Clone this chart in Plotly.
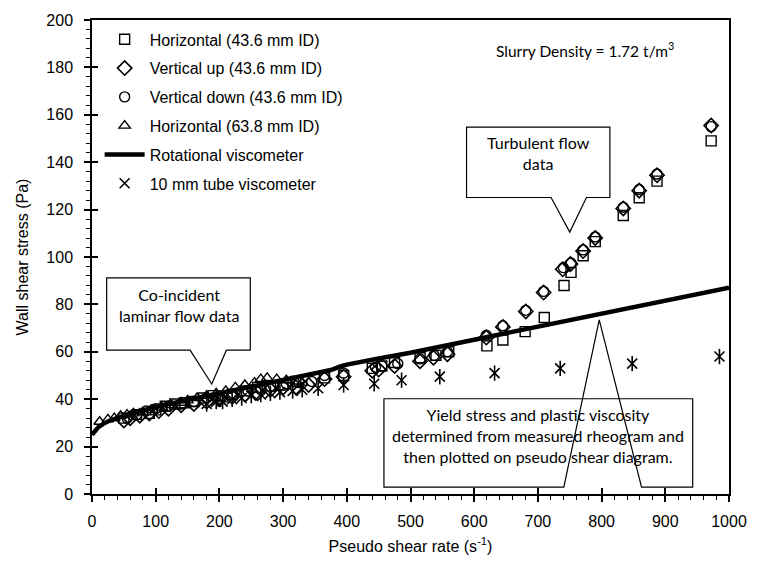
import plotly.graph_objects as go

# ---------------- data ----------------
h436_x = [50, 70, 90, 100, 115, 130, 145, 160, 175, 190, 205, 220, 240, 260, 280, 300, 320,
          365, 395, 440, 455, 475, 515, 540, 560, 620, 645, 680, 710, 741, 752, 771, 790, 834, 859, 887, 972]
h436_y = [32, 33.5, 34, 35.5, 37, 38, 38.5, 39, 40.5, 41.5, 41, 42, 43.5, 45, 45.5, 46, 47.5,
          49, 50, 53, 54, 55.5, 57.5, 58.5, 60, 62.5, 65, 68.5, 74.5, 88, 93.5, 100.5, 106.5, 117.5, 125, 132, 149]

vup_x = [50, 60, 75, 90, 105, 120, 140, 160, 180, 200, 220, 240, 260, 280, 300, 320, 340,
         365, 395, 440, 450, 475, 515, 536, 558, 619, 645, 681, 709, 739, 751, 771, 790, 834, 859, 887, 972]
vup_y = [31, 32, 33, 34, 35, 36, 37.5, 38, 39, 40, 41, 42, 42.5, 44, 45, 45, 46,
         48.5, 49.5, 52, 52.5, 54, 56, 57.5, 59, 66, 70.5, 77, 85, 94.8, 97, 102.5, 108, 120.5, 128, 134.5, 155.5]

vdn_x = [55, 70, 85, 100, 120, 140, 160, 180, 200, 220, 245, 265, 285, 305, 325, 345,
         365, 395, 445, 455, 480, 515, 537, 558, 619, 645, 681, 709, 740, 752, 771, 790, 834, 859, 887, 972]
vdn_y = [32, 33.5, 35, 36, 37, 38, 39, 40.5, 41.5, 42, 43.5, 44, 45.5, 46.5, 47, 47.5,
         50, 51, 53.5, 54, 55, 57, 58.5, 60, 67, 71, 77.5, 85.5, 95.5, 97.5, 103, 108.5, 121, 128.5, 135, 155]

h638_x = [12, 25, 35, 45, 55, 65, 80, 95, 110, 125, 140, 150, 165, 180, 195, 210, 225,
          240, 255, 265, 275, 290, 305, 320, 330]
h638_y = [30.5, 31.5, 32, 33, 33.5, 34, 34.5, 35.5, 36.5, 37.5, 38.5, 39.5, 40.5, 41.5, 42.5, 43.5, 45,
          46, 47, 48.5, 49, 48.5, 48, 47.5, 47]

rot_x = [0, 5, 10, 20, 30, 50, 75, 100, 150, 200, 250, 300, 350, 375, 390, 400, 450, 500, 600, 700, 800, 900, 1000]
rot_y = [25, 26.8, 28.2, 30, 31.2, 33, 35, 36.7, 39.7, 42.5, 45.2, 48, 50.8, 52.3, 53.8, 54.6, 57.2, 59.6, 65.1, 70.6, 76, 81.4, 87]

tube_x = [180, 195, 205, 220, 235, 250, 265, 280, 295, 315, 330, 355, 395, 443, 486, 546, 632, 735, 848, 985]
tube_y = [38, 39, 39, 40, 40.5, 41.5, 42, 42.5, 43, 43.5, 44, 44.6, 46, 46.5, 48, 49.5, 51, 53, 55, 58]

x_ticks = list(range(0, 1001, 100))
y_ticks = list(range(0, 201, 20))

# ---------------- figure ----------------
AX = "Liberation Sans, Arial, sans-serif"
CAL = "Lato, Carlito, Calibri, sans-serif"
mk = dict(size=10, color="black", line=dict(color="black", width=1.4))

fig = go.Figure()
fig.add_trace(go.Scatter(x=h436_x, y=h436_y, mode="markers", name="Horizontal (43.6 mm ID)",
                         legendgroup="a", marker=dict(symbol="square-open", **mk)))
fig.add_trace(go.Scatter(x=vup_x, y=vup_y, mode="markers", name="Vertical up (43.6 mm ID)",
                         legendgroup="b", marker=dict(symbol="diamond-open", size=11, color="black",
                                                      line=dict(color="black", width=1.6))))
fig.add_trace(go.Scatter(x=vdn_x, y=vdn_y, mode="markers", name="Vertical down (43.6 mm ID)",
                         legendgroup="c", marker=dict(symbol="circle-open", **mk)))
fig.add_trace(go.Scatter(x=h638_x, y=h638_y, mode="markers", name="Horizontal (63.8 mm ID)",
                         legendgroup="d", marker=dict(symbol="triangle-up-open", **mk)))
fig.add_trace(go.Scatter(x=rot_x, y=rot_y, mode="lines", name="Rotational viscometer",
                         legendgroup="e", line=dict(color="black", width=4.5)))
fig.add_trace(go.Scatter(x=tube_x, y=tube_y, mode="markers", name="10 mm tube viscometer",
                         legendgroup="f", marker=dict(symbol="x-thin-open", size=10, color="black",
                                                      line=dict(color="black", width=1.6))))
fig.add_trace(go.Scatter(x=tube_x, y=tube_y, mode="markers", showlegend=False, hoverinfo="skip",
                         marker=dict(symbol="line-ns-open", size=11, color="black",
                                     line=dict(color="black", width=1.6))))

axis_common = dict(showgrid=False, zeroline=False, showline=True, linecolor="black", linewidth=1.5,
                   mirror=True, ticks="outside", ticklen=6, tickwidth=1.5, tickcolor="black",
                   tickfont=dict(family=AX, size=16, color="black"))
fig.update_layout(
    width=759, height=565,
    margin=dict(l=92, r=19, t=17, b=70),
    paper_bgcolor="white", plot_bgcolor="white",
    showlegend=True,
    legend=dict(x=0.012, y=0.995, xanchor="left", yanchor="top", bgcolor="rgba(0,0,0,0)",
                font=dict(family=AX, size=16, color="black"), tracegroupgap=5, itemwidth=40),
    xaxis=dict(range=[0, 1000], tickvals=x_ticks, ticktext=[str(v) for v in x_ticks],
               ticklabelstandoff=6,
               minor=dict(dtick=20, ticks="outside", ticklen=4, tickwidth=1.2, tickcolor="black"),
               title=dict(text="Pseudo shear rate (s<sup>-1</sup>)", font=dict(family=AX, size=16, color="black"),
                          standoff=12),
               **axis_common),
    yaxis=dict(range=[0, 200], tickvals=y_ticks, ticktext=[str(v) for v in y_ticks],
               ticklabelstandoff=8,
               minor=dict(dtick=4, ticks="outside", ticklen=4, tickwidth=1.2, tickcolor="black"),
               title=dict(text="Wall shear stress (Pa)", font=dict(family=AX, size=16, color="black"),
                          standoff=14),
               **axis_common),
    xaxis2=dict(range=[0, 1000], overlaying="x", tickvals=x_ticks, ticks="inside", ticklen=6, tickwidth=1.5,
                tickcolor="black", showticklabels=False, showgrid=False, zeroline=False, showline=False,
                side="bottom", anchor="y"),
    yaxis2=dict(range=[0, 200], overlaying="y", tickvals=y_ticks, ticks="inside", ticklen=6, tickwidth=1.5,
                tickcolor="black", showticklabels=False, showgrid=False, zeroline=False, showline=False,
                side="left", anchor="x"),
)
# dummy trace to activate overlay axes
fig.add_trace(go.Scatter(x=[None], y=[None], xaxis="x2", yaxis="y2", showlegend=False, hoverinfo="skip"))

def callout(box, base, tip):
    l, r, t, b = box
    b0, b1 = base
    tx, ty = tip
    return (f"M {l} {t} L {r} {t} L {r} {b} L {b1} {b} L {tx} {ty} L {b0} {b} L {l} {b} Z")

shapes = [
    dict(type="path", xref="x", yref="y", path=callout((23, 248.5, 91.2, 60.7), (154, 211), (188, 46.4)),
         line=dict(color="black", width=1.2), fillcolor="white", layer="above"),
    dict(type="path", xref="x", yref="y", path=callout((588, 813, 154.8, 125.1), (720.7, 776.2), (750, 110.5)),
         line=dict(color="black", width=1.2), fillcolor="white", layer="above"),
    dict(type="path", xref="x", yref="y", path=callout((458.3, 943, 40.2, 2.9), (740.7, 862.7), (796.3, 73.5)),
         line=dict(color="black", width=1.2), fillcolor="white", layer="above"),
]
fig.update_layout(shapes=shapes)

ann_font = dict(family=CAL, size=16, color="black")
fig.add_annotation(x=135.8, y=79.7, xref="x", yref="y", text="Co-incident<br>laminar flow data",
                   showarrow=False, font=ann_font, align="center")
fig.add_annotation(x=700.6, y=143.7, xref="x", yref="y", text="Turbulent flow<br>data",
                   showarrow=False, font=ann_font, align="center")
fig.add_annotation(x=700.6, y=24.7, xref="x", yref="y",
                   text="Yield stress and plastic viscosity<br>determined from measured rheogram and<br>then plotted on pseudo shear diagram.",
                   showarrow=False, font=ann_font, align="center")
fig.add_annotation(x=774.7, y=187.4, xref="x", yref="y", text="Slurry Density = 1.72 t/m<sup>3</sup>",
                   showarrow=False, font=dict(family=CAL, size=15.5, color="black"), align="center")

fig.write_html("out.html")
